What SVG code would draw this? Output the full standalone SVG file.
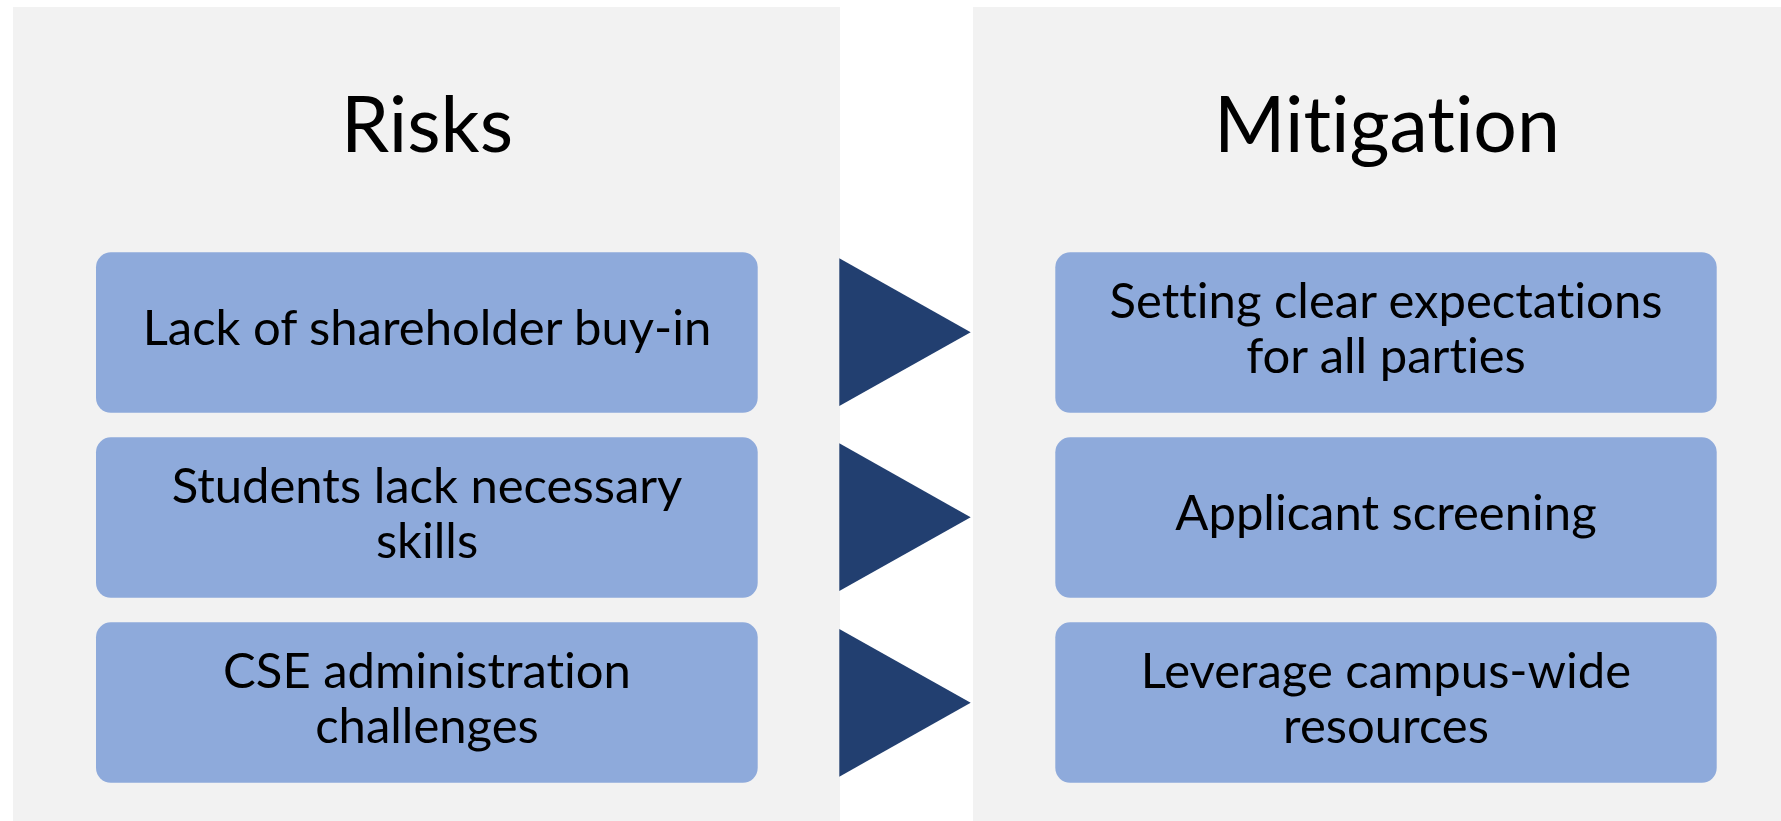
<svg xmlns="http://www.w3.org/2000/svg" width="1781" height="821" viewBox="0 0 1781 821">
<style>
.panel{fill:#F2F2F2}
.box{fill:#8EAADB}
.tri{fill:#223F70}
text{font-family:Lato,"Open Sans","Liberation Sans",sans-serif;fill:#000;text-anchor:middle;font-variant-ligatures:none;font-feature-settings:"liga" 0}
.title{font-size:77px}
.lbl{font-size:49px}
</style>
<rect width="1781" height="821" fill="#FFFFFF"/>
<g id="panel-risks">
<rect class="panel" x="13" y="7" width="827" height="814"/>
<text class="title" x="427" y="152">Risks</text>
</g>
<g id="panel-mitigation">
<rect class="panel" x="973" y="7" width="827" height="814"/>
<text class="title" x="1387" y="152">Mitigation</text>
</g>
<g id="risk1">
<rect class="box" x="96" y="252.3" width="661.7" height="160.5" rx="15"/>
<text class="lbl" x="427" y="345">Lack of shareholder buy-in</text>
</g>
<g id="risk2">
<rect class="box" x="96" y="437.3" width="661.7" height="160.5" rx="15"/>
<text class="lbl" x="427" y="502.5">Students lack necessary</text>
<text class="lbl" x="427" y="557.5">skills</text>
</g>
<g id="risk3">
<rect class="box" x="96" y="622.3" width="661.7" height="160.5" rx="15"/>
<text class="lbl" x="427" y="687.5">CSE administration</text>
<text class="lbl" x="427" y="742.5">challenges</text>
</g>
<g id="mit1">
<rect class="box" x="1055.3" y="252.3" width="661.4" height="160.5" rx="15"/>
<text class="lbl" x="1386" y="317.5">Setting clear expectations</text>
<text class="lbl" x="1386" y="372.5">for all parties</text>
</g>
<g id="mit2">
<rect class="box" x="1055.3" y="437.3" width="661.4" height="160.5" rx="15"/>
<text class="lbl" x="1386" y="530">Applicant screening</text>
</g>
<g id="mit3">
<rect class="box" x="1055.3" y="622.3" width="661.4" height="160.5" rx="15"/>
<text class="lbl" x="1386" y="687.5">Leverage campus-wide</text>
<text class="lbl" x="1386" y="742.5">resources</text>
</g>
<g id="connectors">
<polygon class="tri" points="839.3,258.3 970.7,332.3 839.3,406"/>
<polygon class="tri" points="839.3,443.3 970.7,517.3 839.3,591"/>
<polygon class="tri" points="839.3,629 970.7,702.7 839.3,776.7"/>
</g>
</svg>
